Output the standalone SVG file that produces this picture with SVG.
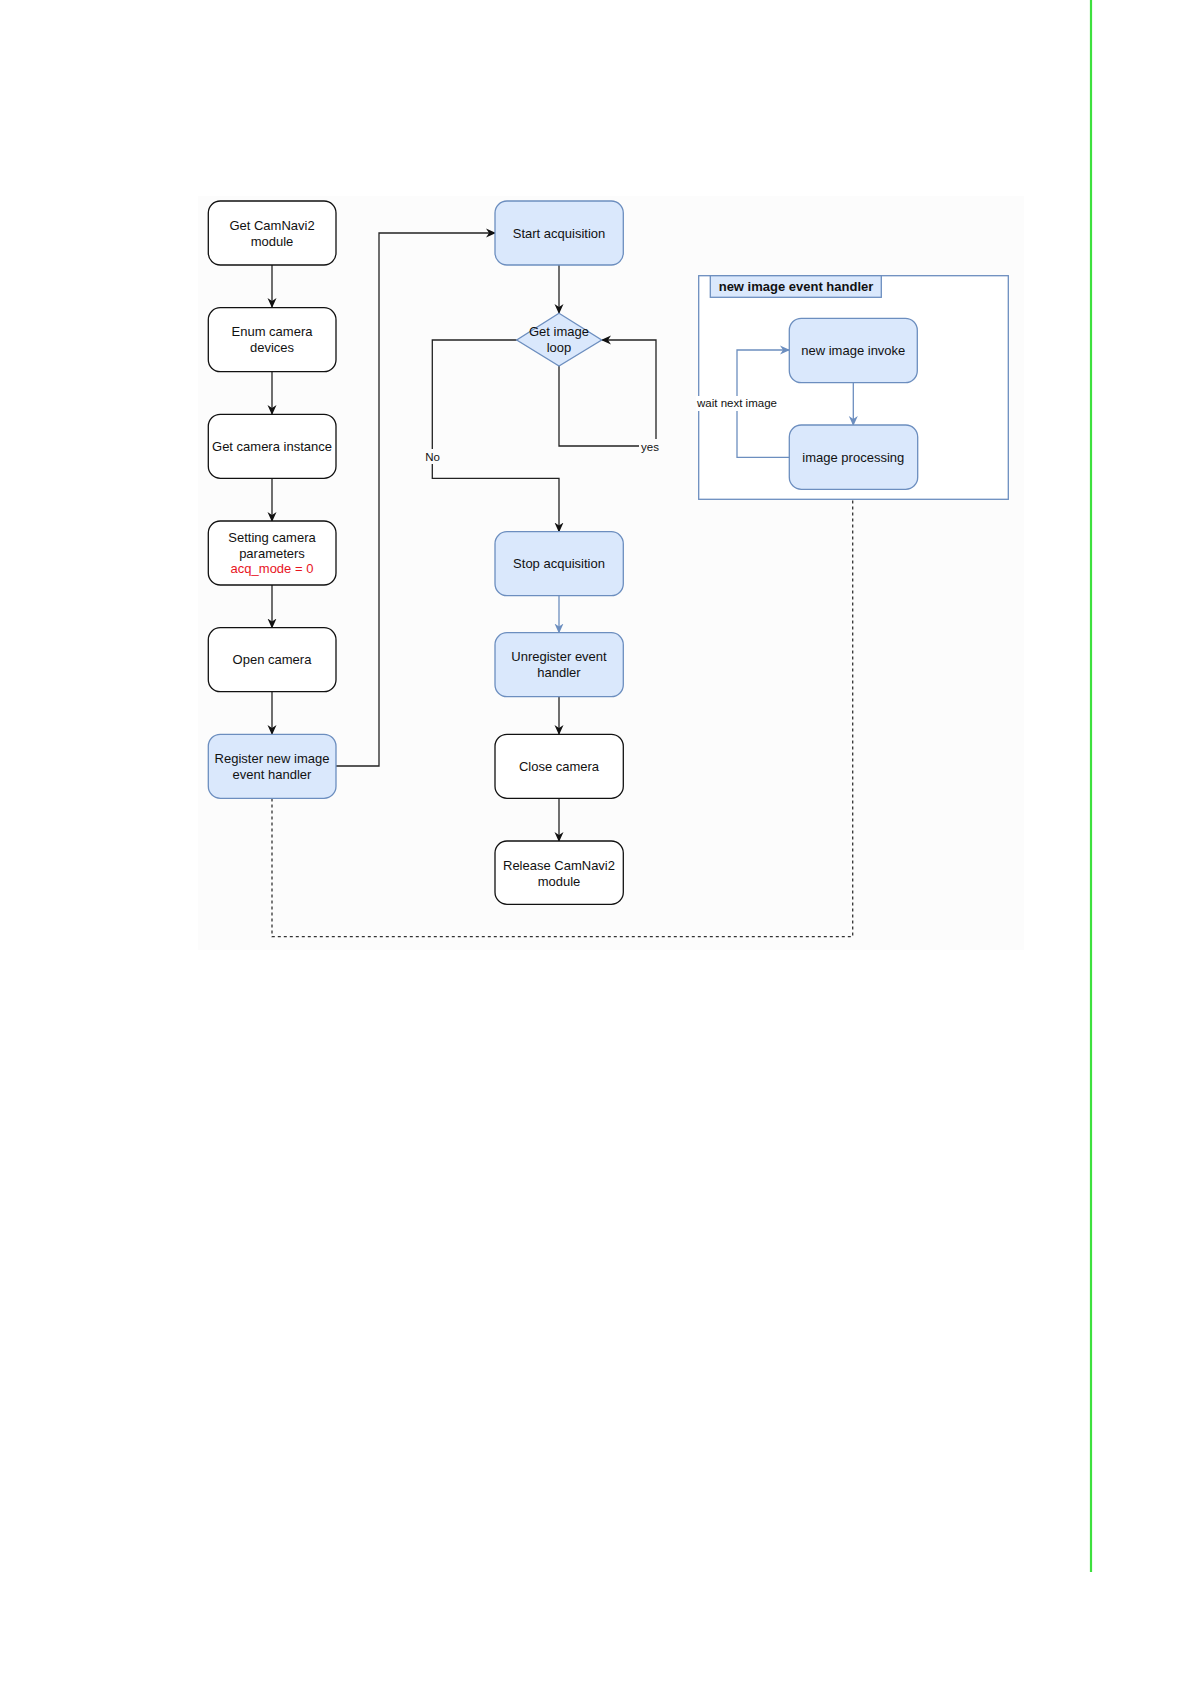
<svg xmlns="http://www.w3.org/2000/svg" width="1191" height="1684" viewBox="0 0 1191 1684">
<style>
text{font-family:"Liberation Sans",Arial,sans-serif;font-size:13px;fill:#111;text-anchor:middle;dominant-baseline:central}
.w{fill:#fff;stroke:#111;stroke-width:1.3}
.b{fill:#dae8fc;stroke:#6c8ebf;stroke-width:1.3}
.e{fill:none;stroke:#222;stroke-width:1.3}
.eb{fill:none;stroke:#6c8ebf;stroke-width:1.3}
.d{fill:none;stroke:#333;stroke-width:1.3;stroke-dasharray:3 3}
.lbl{font-size:11.5px}
.red{fill:#e8141e}
</style>
<defs>
<marker id="a" viewBox="0 0 10 10" refX="9" refY="5" markerWidth="10" markerHeight="10" markerUnits="userSpaceOnUse" orient="auto"><path d="M0,0.5 L10,5 L0,9.5 L3,5 Z" fill="#111"/></marker>
<marker id="ab" viewBox="0 0 10 10" refX="9" refY="5" markerWidth="10" markerHeight="10" markerUnits="userSpaceOnUse" orient="auto"><path d="M0,0.5 L10,5 L0,9.5 L3,5 Z" fill="#6c8ebf"/></marker>
</defs>
<rect x="0" y="0" width="1191" height="1684" fill="#fff"/>
<rect x="198" y="196" width="826" height="754" fill="#fcfcfc"/>
<line x1="1091" y1="0" x2="1091" y2="1572" stroke="#3ee03e" stroke-width="2.2"/>

<g id="handler-group">
<rect x="698.7" y="275.7" width="309.6" height="223.6" fill="#fff" stroke="#6c8ebf" stroke-width="1.3"/>
<rect x="710.3" y="275.7" width="171" height="21.6" fill="#dae8fc" stroke="#6c8ebf" stroke-width="1.3"/>
<text x="796" y="286.5" style="font-weight:bold">new image event handler</text>
</g>

<g id="connectors">
<path class="e" d="M272,265 V307" marker-end="url(#a)"/>
<path class="e" d="M272,372 V414" marker-end="url(#a)"/>
<path class="e" d="M272,478 V521" marker-end="url(#a)"/>
<path class="e" d="M272,585 V627.5" marker-end="url(#a)"/>
<path class="e" d="M272,692 V734" marker-end="url(#a)"/>
<path class="e" d="M336,766 H379 V233 H495" marker-end="url(#a)"/>
<path class="e" d="M559,265 V313" marker-end="url(#a)"/>
<path class="e" d="M516.7,340 H432.3 V478.3 H559 V531.5" marker-end="url(#a)"/>
<path class="e" d="M559,366 V446 H656 V340 H602" marker-end="url(#a)"/>
<path class="eb" d="M559,596 V632.5" marker-end="url(#ab)"/>
<path class="e" d="M559,697 V734" marker-end="url(#a)"/>
<path class="e" d="M559,798.5 V841" marker-end="url(#a)"/>
<path class="eb" d="M853.3,382.7 V425" marker-end="url(#ab)"/>
<path class="eb" d="M789.3,457.3 H737 V350 H789" marker-end="url(#ab)"/>
<path class="d" d="M272,798.5 V936.7 H852.7 V499.5"/>
<rect x="422" y="449" width="21" height="15" fill="#fcfcfc"/>
<text class="lbl" x="432.5" y="456.7">No</text>
<rect x="639" y="439" width="22" height="15" fill="#fcfcfc"/>
<text class="lbl" x="650" y="446.5">yes</text>
</g>

<g id="n-get-module"><rect class="w" x="208.3" y="201" width="127.7" height="64" rx="12"/><text x="272" y="225">Get CamNavi2</text><text x="272" y="241">module</text></g>
<g id="n-enum"><rect class="w" x="208.3" y="307.7" width="127.7" height="64" rx="12"/><text x="272" y="331.7">Enum camera</text><text x="272" y="347.7">devices</text></g>
<g id="n-instance"><rect class="w" x="208.3" y="414.3" width="127.7" height="64" rx="12"/><text x="272" y="446.3">Get camera instance</text></g>
<g id="n-setting"><rect class="w" x="208.3" y="521" width="127.7" height="64" rx="12"/><text x="272" y="537.7">Setting camera</text><text x="272" y="553">parameters</text><text class="red" x="272" y="568.7">acq_mode = 0</text></g>
<g id="n-open"><rect class="w" x="208.3" y="627.7" width="127.7" height="64" rx="12"/><text x="272" y="659.7">Open camera</text></g>
<g id="n-register"><rect class="b" x="208.3" y="734.3" width="127.7" height="64" rx="12"/><text x="272" y="758.3">Register new image</text><text x="272" y="774.3">event handler</text></g>

<g id="n-start"><rect class="b" x="495" y="201" width="128.3" height="64" rx="12"/><text x="559" y="233">Start acquisition</text></g>
<g id="n-loop"><path class="b" d="M559,313.3 L601.7,340 L559,366 L516.7,340 Z"/><text x="559" y="331.7">Get image</text><text x="559" y="347.7">loop</text></g>
<g id="n-stop"><rect class="b" x="495" y="531.7" width="128.3" height="64" rx="12"/><text x="559" y="563.7">Stop acquisition</text></g>
<g id="n-unregister"><rect class="b" x="495" y="632.7" width="128.3" height="64" rx="12"/><text x="559" y="656.7">Unregister event</text><text x="559" y="672.7">handler</text></g>
<g id="n-close"><rect class="w" x="495" y="734.3" width="128.3" height="64" rx="12"/><text x="559" y="766.3">Close camera</text></g>
<g id="n-release"><rect class="w" x="495" y="841" width="128.3" height="63.3" rx="12"/><text x="559" y="865">Release CamNavi2</text><text x="559" y="881">module</text></g>

<g id="n-invoke"><rect class="b" x="789.3" y="318.3" width="128" height="64.4" rx="12"/><text x="853.3" y="350.5">new image invoke</text></g>
<g id="n-processing"><rect class="b" x="789.3" y="425" width="128.4" height="64.3" rx="12"/><text x="853.3" y="457.2">image processing</text></g>
<g id="wait-label"><rect x="696" y="396" width="82" height="15" fill="#fff"/><text class="lbl" x="737" y="403.3">wait next image</text></g>
</svg>
